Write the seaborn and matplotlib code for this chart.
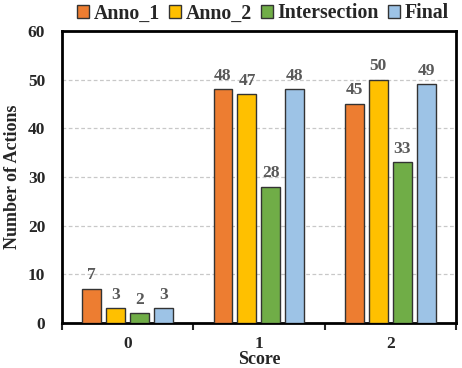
import matplotlib
matplotlib.use("Agg")
import matplotlib.pyplot as plt
import seaborn as sns
import pandas as pd

categories = ["0", "1", "2"]
series = ["Anno_1", "Anno_2", "Intersection", "Final"]
anno_1 = [7, 48, 45]
anno_2 = [3, 47, 50]
intersection = [2, 28, 33]
final = [3, 48, 49]
colors = ["#ED7D31", "#FFC000", "#70AD47", "#9DC3E6"]

rows = []
for name, vals in zip(series, [anno_1, anno_2, intersection, final]):
    for c, v in zip(categories, vals):
        rows.append({"Score": c, "Series": name, "Value": v})
df = pd.DataFrame(rows)

sns.set_style("white")
plt.rcParams['font.family'] = ['Liberation Serif', 'DejaVu Serif']
plt.rcParams['font.weight'] = 'bold'

fig = plt.figure(figsize=(4.62, 3.68), dpi=100)
ax = fig.add_axes([0.134, 0.122, 0.853, 0.794])
sns.barplot(data=df, x="Score", y="Value", hue="Series", hue_order=series,
            palette=colors, width=0.73, gap=0.21, edgecolor="#333333",
            linewidth=1.0, ax=ax, zorder=3, saturation=1)

for cont in ax.containers:
    ax.bar_label(cont, padding=4, fontsize=12.5, fontweight='bold', color='#595959')

ax.set_ylim(0, 60)
ax.set_yticks(range(0, 61, 10))
ax.set_xlim(-0.5, 2.5)
ax.yaxis.grid(True, linestyle=(0, (3, 2)), color='#C8C8C8', linewidth=0.9, zorder=0)
ax.set_axisbelow(True)
for s in ax.spines.values():
    s.set_linewidth(2)
    s.set_color('black')

ax.set_xticks([0, 1, 2])
ax.set_xticklabels(categories)
ax.set_xticks([-0.5, 0.5, 1.5, 2.5], minor=True)
ax.tick_params(axis='x', which='major', length=0, pad=9, labelsize=12.5)
ax.tick_params(axis='x', which='minor', length=5, width=1.5, direction='out', bottom=True)
ax.tick_params(axis='y', length=0, labelsize=12.5, pad=12)
for lbl in ax.get_xticklabels() + ax.get_yticklabels():
    lbl.set_fontweight('bold')

ax.set_xlabel("")
fig.text(ax.get_position().x0 + ax.get_position().width / 2, 0.0, "Score",
         ha='center', va='bottom', fontsize=13, fontweight='bold')
ax.set_ylabel("Number of Actions", fontsize=13, fontweight='bold', labelpad=5)

leg = ax.legend(loc='lower center', bbox_to_anchor=(0.51, 0.995), ncol=4, frameon=False,
                fontsize=14.3, handlelength=0.6, handleheight=0.6, handletextpad=0.25,
                columnspacing=0.45, borderaxespad=0.05)
for h in leg.legend_handles:
    h.set_edgecolor('#333333')
    h.set_linewidth(1)

fig.savefig("out.png", dpi=100)
